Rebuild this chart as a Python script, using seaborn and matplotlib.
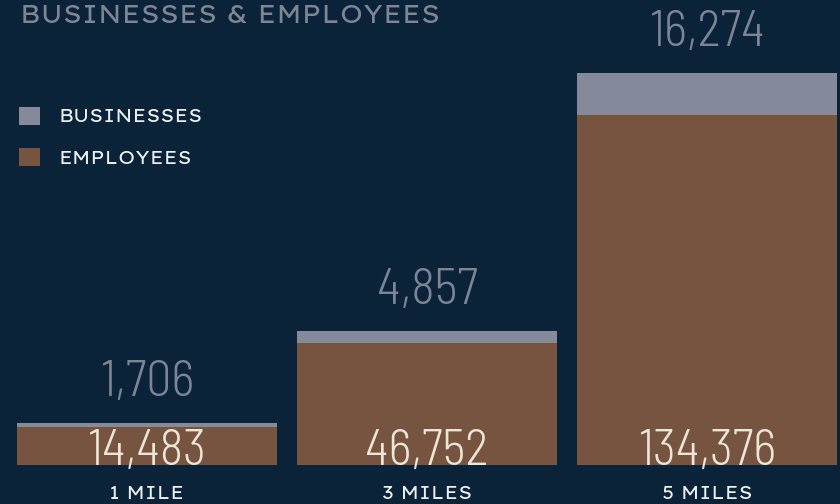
import matplotlib
matplotlib.use("Agg")
import matplotlib.pyplot as plt
import seaborn as sns
import numpy as np
import warnings
import logging
logging.getLogger("matplotlib.font_manager").setLevel(logging.ERROR)
warnings.filterwarnings("ignore")

# ---- data ----
categories = ["1 MILE", "3 MILES", "5 MILES"]
businesses = [1706, 4857, 16274]
employees = [14483, 46752, 134376]
series_labels = ["BUSINESSES", "EMPLOYEES"]
title = "BUSINESSES & EMPLOYEES"

# ---- style ----
BG = "#0a2339"
GREY = "#848a99"
BROWN = "#76543f"
NUM_GREY = "#7d8496"
NUM_CREAM = "#ece5d8"
WHITE = "#eef0f3"
TEXT_FONT = ["Lexend Exa", "Poppins", "Lato", "DejaVu Sans"]
NUM_FONT = ["Barlow Semi Condensed", "Barlow Condensed", "Roboto Condensed", "DejaVu Sans"]

fig = plt.figure(figsize=(8.4, 5.04), dpi=100, facecolor=BG)
ax = fig.add_axes([17 / 840, 39 / 504, 820 / 840, 465 / 504])
ax.set_facecolor(BG)

totals = [b + e for b, e in zip(businesses, employees)]
bw = 260 / 280

sns.barplot(x=categories, y=totals, color=GREY, saturation=1, width=bw,
            ax=ax, label=series_labels[0], linewidth=0)
sns.barplot(x=categories, y=employees, color=BROWN, saturation=1, width=bw,
            ax=ax, label=series_labels[1], linewidth=0)

ax.set_xlim(-bw / 2, len(categories) - 1 + bw / 2)
ax.set_ylim(0, max(totals) * 465 / 392)
ax.set_xlabel("")
ax.set_ylabel("")
for s in ax.spines.values():
    s.set_visible(False)
ax.set_yticks([])
ax.tick_params(axis="x", length=0, pad=14.5, colors=WHITE, labelsize=13.5)
for lab in ax.get_xticklabels():
    lab.set_family(TEXT_FONT)
    lab.set_fontweight(400)

# value labels
for i, (b, e, t) in enumerate(zip(businesses, employees, totals)):
    ax.annotate(f"{b:,}", xy=(i, t), xytext=(0, 19.5), textcoords="offset points",
                ha="center", va="baseline", fontsize=36, color=NUM_GREY,
                family=NUM_FONT, fontweight=300)
    ax.annotate(f"{e:,}", xy=(i, 0), xytext=(0, 0), textcoords="offset points",
                ha="center", va="baseline", fontsize=36, color=NUM_CREAM,
                family=NUM_FONT, fontweight=300)

# legend
handles, labels = ax.get_legend_handles_labels()
leg = ax.legend(handles, labels, loc="upper left",
                bbox_to_anchor=(19 / 840, 1 - 107 / 504), bbox_transform=fig.transFigure,
                frameon=False, borderpad=0, borderaxespad=0,
                handlelength=1.12, handleheight=1.12, handletextpad=1.0,
                labelspacing=1.15, prop={"family": TEXT_FONT, "size": 13.5, "weight": 400})
for txt in leg.get_texts():
    txt.set_color(WHITE)

fig.text(20 / 840, 1 - 4 / 504, title, ha="left", va="top", fontsize=18.5,
         color="#7e8596", family=TEXT_FONT, fontweight=400)

fig.savefig("out.png", dpi=100, facecolor=BG)
